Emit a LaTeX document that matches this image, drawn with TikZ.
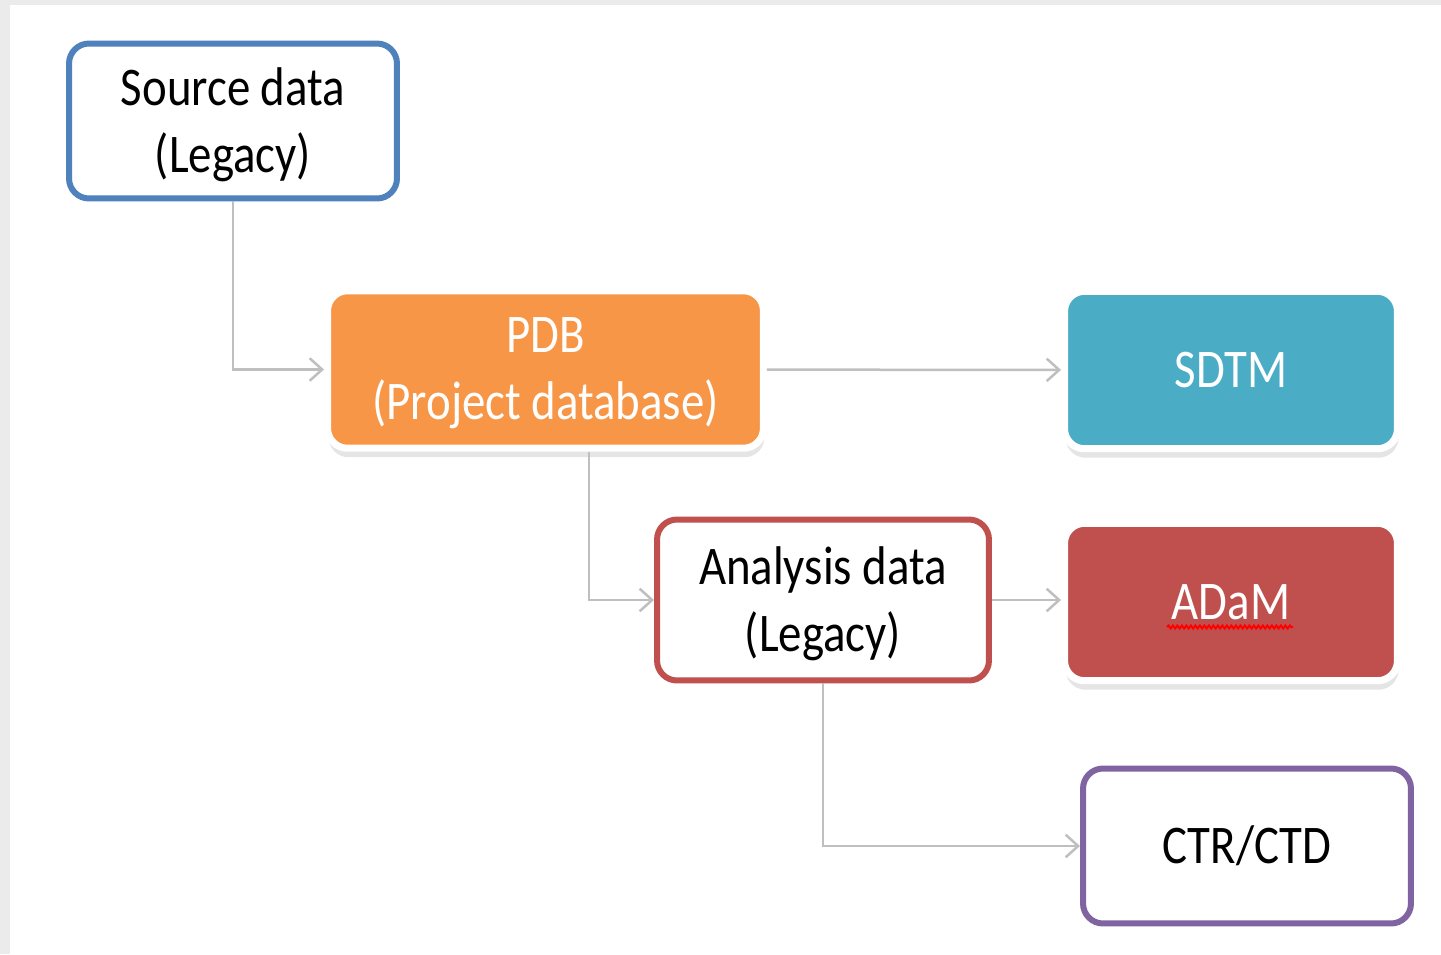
\documentclass[tikz,border=0pt]{standalone}
\usepackage{fontspec}
\setmainfont{Carlito}[FakeStretch=0.86]
\usetikzlibrary{arrows.meta,shadows,decorations.pathmorphing}
\definecolor{srcblue}{HTML}{4F81BD}
\definecolor{pdborange}{HTML}{F79646}
\definecolor{sdtmteal}{HTML}{4BACC6}
\definecolor{adamred}{HTML}{C0504D}
\definecolor{ctrpurple}{HTML}{8064A2}
\definecolor{linegray}{HTML}{BFBFBF}
\definecolor{bggray}{HTML}{EBEBEB}
\begin{document}
\begin{tikzpicture}[
	                  x = 0.02cm,
	                  y = -0.02cm,
	  every node/.style = {align=center, rounded corners=0.4cm, font=\fontsize{31}{38}\selectfont},
	     outline/.style = {draw, line width=0.12cm, fill=white, minimum width=6.56cm, minimum height=3.1cm},
	      filled/.style = {draw=white, line width=0.14cm, text=white, minimum height=3.15cm,
	                       drop shadow={shadow xshift=0.02cm, shadow yshift=-0.18cm, opacity=0.2}},
	     twoline/.style = {text depth=0.05cm},
	        conn/.style = {draw=linegray, line width=0.05cm, -{Straight Barb[length=0.25cm,width=0.45cm]}}
	                    ]
	% frame
	\fill[bggray] (0,0) rectangle (1441,954);
	\fill[white] (10,5) rectangle (1441,954);
	\useasboundingbox (0,0) rectangle (1441,954);
	% boxes
	\node[outline, twoline, draw=srcblue] (src) at (233,121) {Source data\\(Legacy)};
	\node[filled, twoline, fill=pdborange, minimum width=8.72cm] (pdb) at (545.5,369.5) {PDB\\(Project database)};
	\node[filled, fill=sdtmteal, minimum width=6.66cm] (sdtm) at (1231,370) {SDTM};
	\node[outline, twoline, draw=adamred, minimum width=6.64cm, minimum height=3.22cm] (ana) at (823,600) {Analysis data\\(Legacy)};
	\node[filled, fill=adamred, minimum width=6.66cm] (adam) at (1231,602) {ADaM};
	\node[outline, draw=ctrpurple] (ctr) at (1247,846) {CTR/CTD};
	% links
	\draw[conn] (src) |- (pdb);
	\draw[conn] (pdb) -- (sdtm);
	\draw[conn] ([xshift=0.87cm]pdb.south) |- (ana);
	\draw[conn] (ana.east) -- (ana.east -| adam.west);
	\draw[conn] (ana) |- (ctr);
	% spell check mark
	\draw[red, line width=0.04cm, decorate, decoration={snake, amplitude=0.03cm, segment length=0.09cm}] (1167,627) -- (1293,627);
\end{tikzpicture}
\end{document}
